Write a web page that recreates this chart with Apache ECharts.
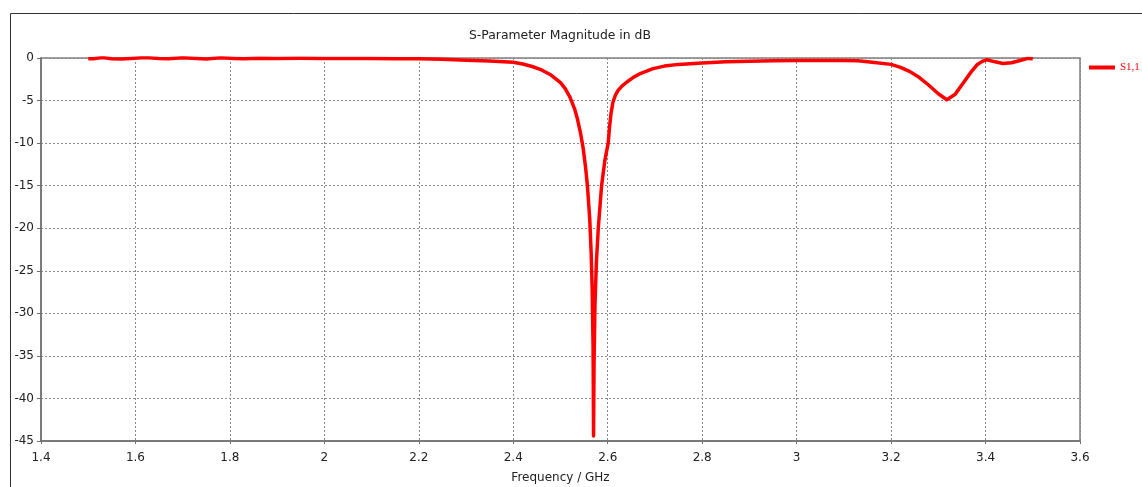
<!DOCTYPE html>
<html>
<head>
<meta charset="utf-8">
<title>S-Parameter Magnitude in dB</title>
<script src="https://cdn.jsdelivr.net/npm/echarts@6/dist/echarts.min.js"></script>
<style>
  html, body { margin: 0; padding: 0; background: #ffffff; }
  #chart { width: 1142px; height: 487px; }
</style>
</head>
<body>
<div id="chart"></div>
<script>
// frequency in GHz
var freq = [1.50, 1.51, 1.53, 1.55, 1.57, 1.59, 1.62, 1.65, 1.67, 1.70, 1.73, 1.75, 1.78, 1.81, 1.83, 1.86,
  1.90, 1.95, 2.00, 2.05, 2.10, 2.15, 2.20, 2.25, 2.30, 2.35, 2.40, 2.42, 2.44, 2.46, 2.48, 2.50, 2.51,
  2.52, 2.53, 2.536, 2.542, 2.548, 2.553, 2.557, 2.562, 2.565, 2.567, 2.569, 2.570, 2.571, 2.573, 2.576,
  2.580, 2.587, 2.594, 2.601, 2.604, 2.607, 2.611, 2.616, 2.622, 2.63, 2.64, 2.655, 2.67, 2.696, 2.72, 2.75,
  2.80, 2.85, 2.90, 2.95, 3.00, 3.05, 3.10, 3.13, 3.16, 3.20, 3.22, 3.24, 3.26, 3.28, 3.30, 3.318, 3.335,
  3.352, 3.37, 3.382, 3.393, 3.403, 3.42, 3.437, 3.455, 3.473, 3.49, 3.50]
// S1,1 in dB
var s11 = [-0.10, -0.08, 0.05, -0.08, -0.12, -0.05, 0.06, -0.06, -0.10, 0.04, -0.06, -0.12, 0.03, -0.05, -0.10, -0.02,
  -0.06, -0.04, -0.06, -0.05, -0.07, -0.08, -0.10, -0.15, -0.25, -0.35, -0.50, -0.70, -1.00, -1.40, -2.00, -2.90, -3.60,
  -4.60, -6.00, -7.20, -8.70, -10.6, -12.8, -15.0, -19.0, -23.0, -27.0, -34.0, -44.4, -36.0, -29.0, -24.0,
  -20.0, -15.0, -12.0, -10.0, -8.0, -6.5, -5.2, -4.4, -3.8, -3.3, -2.85, -2.25, -1.8, -1.25, -0.95, -0.75,
  -0.60, -0.45, -0.38, -0.33, -0.30, -0.28, -0.28, -0.32, -0.50, -0.75, -1.10, -1.60, -2.30, -3.20, -4.20, -4.90, -4.30,
  -3.00, -1.60, -0.80, -0.40, -0.20, -0.45, -0.65, -0.55, -0.30, -0.05, -0.10]

var seriesName = 'S1,1'
var xMin = 1.4, xMax = 3.6, xStep = 0.2
var yMin = -45, yMax = 0, yStep = 5

var pts = []
for (var i = 0; i < freq.length; i++) {
  pts.push([freq[i], s11[i]])
}

var chart = echarts.init(document.getElementById('chart'))
chart.setOption({
  animation: false,
  backgroundColor: '#ffffff',
  textStyle: { fontFamily: 'DejaVu Sans' },
  title: {
    text: 'S-Parameter Magnitude in dB',
    left: 464,
    top: 25,
    textStyle: { fontSize: 12.4, fontWeight: 'normal', color: '#222', fontFamily: 'DejaVu Sans' }
  },
  legend: {
    data: [seriesName],
    left: 1084,
    top: 57,
    icon: 'rect',
    itemWidth: 26,
    itemHeight: 4,
    textStyle: { color: '#ff0000', fontSize: 11, fontFamily: 'Liberation Serif' }
  },
  graphic: [
    {
      // outer frame of the plot window
      type: 'rect',
      shape: { x: 10.5, y: 13.5, width: 1300, height: 600 },
      style: { fill: 'none', stroke: '#333', lineWidth: 1 },
      silent: true
    }
  ],
  grid: {
    left: 41,
    right: 62,
    top: 58,
    bottom: 46,
    outerBoundsMode: 'none',
    show: true,
    borderColor: '#808080',
    borderWidth: 1.5
  },
  xAxis: {
    type: 'value',
    min: xMin,
    max: xMax,
    interval: xStep,
    name: 'Frequency / GHz',
    nameLocation: 'middle',
    nameGap: 31,
    nameTextStyle: { fontSize: 12, color: '#222' },
    axisLine: { onZero: false, lineStyle: { color: '#707070', width: 1.5 } },
    axisTick: { show: true, length: 3, lineStyle: { color: '#707070' } },
    axisLabel: { margin: 11, fontSize: 12, color: '#222' },
    splitLine: { show: true, lineStyle: { color: '#8a8a8a', type: [2, 2], width: 1 } }
  },
  yAxis: {
    type: 'value',
    min: yMin,
    max: yMax,
    interval: yStep,
    axisLine: { show: true, lineStyle: { color: '#707070', width: 1.5 } },
    axisTick: { show: true, length: 4, lineStyle: { color: '#707070' } },
    axisLabel: { margin: 7, fontSize: 12, color: '#222' },
    splitLine: { show: true, lineStyle: { color: '#8a8a8a', type: [2, 2], width: 1 } }
  },
  series: [
    {
      name: seriesName,
      type: 'line',
      data: pts,
      symbol: 'none',
      smooth: false,
      lineStyle: { color: '#ff0000', width: 3.5, join: 'round' },
      itemStyle: { color: '#ff0000' }
    }
  ]
})
</script>
</body>
</html>
